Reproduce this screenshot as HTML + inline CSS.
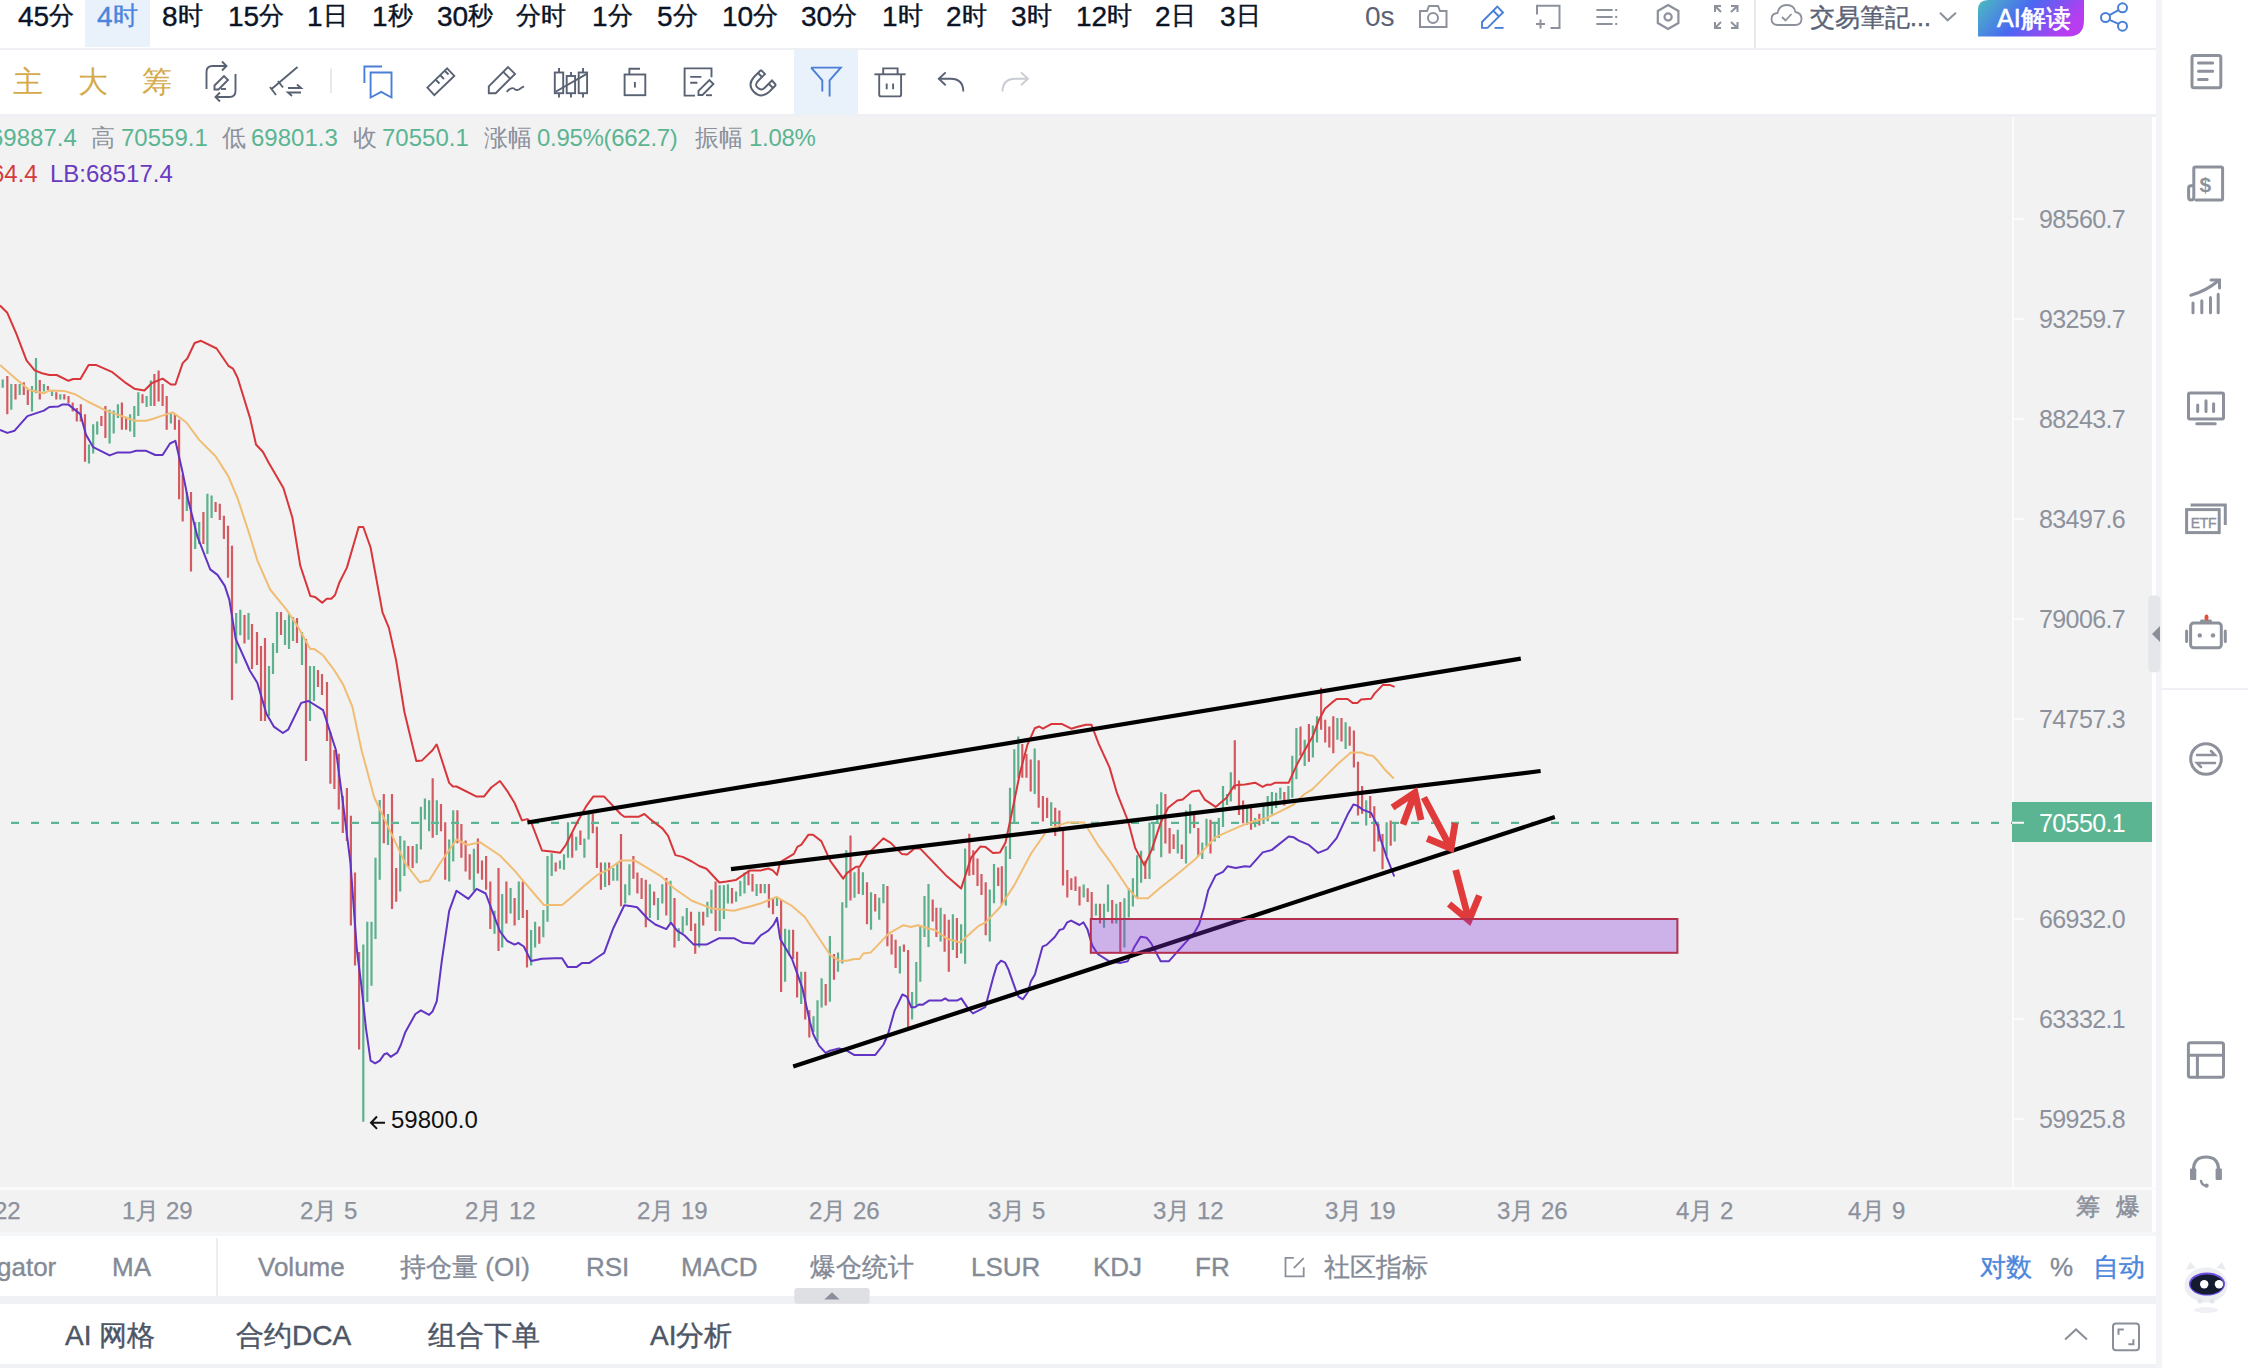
<!DOCTYPE html>
<html><head><meta charset="utf-8">
<style>
*{margin:0;padding:0;box-sizing:border-box}
html,body{width:2248px;height:1368px;overflow:hidden;background:#fff;font-family:"Liberation Sans",sans-serif;position:relative}
.a{position:absolute;white-space:nowrap}
.tf{font-size:28px;color:#0b1426;top:2px;line-height:30px;-webkit-text-stroke-width:0.4px}
.tf .c{font-size:25px;position:relative;top:-2px}
.ax{font-size:25px;color:#8c919c;line-height:26px;letter-spacing:-0.6px}
.tm{font-size:24px;color:#8c919c;line-height:26px;top:1198px;-webkit-text-stroke-width:0.25px}
.ind{font-size:26px;color:#848a96;line-height:30px;top:1252px;-webkit-text-stroke-width:0.35px}
.bt{font-size:28px;color:#4d5666;line-height:32px;top:1320px;-webkit-text-stroke-width:0.4px}
svg{position:absolute;left:0;top:0}
</style></head><body>
<!-- top bar -->
<div class="a" style="left:0;top:0;width:2156px;height:48px;background:#fff"></div>
<div class="a" style="left:85px;top:0;width:65px;height:47px;background:#e9f1fb"></div>
<div class="a" style="left:0;top:48px;width:2156px;height:2px;background:#eef0f3"></div>
<div class="a" style="left:794px;top:50px;width:64px;height:64px;background:#e9f1fb"></div>
<div class="a" style="left:0;top:114px;width:2156px;height:3px;background:#eef0f3"></div>
<!-- chart bg -->
<div class="a" style="left:0;top:117px;width:2152px;height:1070px;background:#f2f2f2"></div>
<div class="a" style="left:2012px;top:117px;width:2px;height:1070px;background:#fbfbfb"></div>
<div class="a" style="left:0;top:1187px;width:2156px;height:3px;background:#fafafa"></div>
<div class="a" style="left:0;top:1190px;width:2152px;height:42px;background:#f2f2f2"></div>
<div class="a" style="left:0;top:1232px;width:2156px;height:4px;background:#f5f6f8"></div>
<div class="a" style="left:216px;top:1238px;width:2px;height:58px;background:#eceef1"></div>
<div class="a" style="left:0;top:1296px;width:2156px;height:8px;background:#f0f1f5"></div>
<div class="a" style="left:0;top:1364px;width:2156px;height:4px;background:#f0f1f5"></div>
<div class="a" style="left:2156px;top:0;width:6px;height:1368px;background:#f3f4f8"></div>
<div class="a" style="left:2162px;top:688px;width:86px;height:2px;background:#eef0f3"></div>

<!-- timeframes -->
<span class="a tf" style="left:18px">45<span class="c">分</span></span>
<span class="a tf" style="left:97px;color:#4c86dc">4<span class="c">时</span></span>
<span class="a tf" style="left:162px">8<span class="c">时</span></span>
<span class="a tf" style="left:228px">15<span class="c">分</span></span>
<span class="a tf" style="left:307px">1<span class="c">日</span></span>
<span class="a tf" style="left:372px">1<span class="c">秒</span></span>
<span class="a tf" style="left:437px">30<span class="c">秒</span></span>
<span class="a tf" style="left:516px"><span class="c">分时</span></span>
<span class="a tf" style="left:592px">1<span class="c">分</span></span>
<span class="a tf" style="left:657px">5<span class="c">分</span></span>
<span class="a tf" style="left:722px">10<span class="c">分</span></span>
<span class="a tf" style="left:801px">30<span class="c">分</span></span>
<span class="a tf" style="left:882px">1<span class="c">时</span></span>
<span class="a tf" style="left:946px">2<span class="c">时</span></span>
<span class="a tf" style="left:1011px">3<span class="c">时</span></span>
<span class="a tf" style="left:1076px">12<span class="c">时</span></span>
<span class="a tf" style="left:1155px">2<span class="c">日</span></span>
<span class="a tf" style="left:1220px">3<span class="c">日</span></span>
<span class="a tf" style="left:1365px;color:#5a6275;-webkit-text-stroke:0">0s</span>

<!-- price axis labels -->
<span class="a ax" style="left:2039px;top:206px">98560.7</span>
<span class="a ax" style="left:2039px;top:306px">93259.7</span>
<span class="a ax" style="left:2039px;top:406px">88243.7</span>
<span class="a ax" style="left:2039px;top:506px">83497.6</span>
<span class="a ax" style="left:2039px;top:606px">79006.7</span>
<span class="a ax" style="left:2039px;top:706px">74757.3</span>
<span class="a ax" style="left:2039px;top:906px">66932.0</span>
<span class="a ax" style="left:2039px;top:1006px">63332.1</span>
<span class="a ax" style="left:2039px;top:1106px">59925.8</span>
<div class="a" style="left:2012px;top:802px;width:140px;height:40px;background:#5bb592"></div>
<span class="a ax" style="left:2039px;top:810px;color:#fff">70550.1</span>

<!-- time axis -->
<span class="a tm" style="left:-6px">22</span>
<span class="a tm" style="left:122px">1月 29</span>
<span class="a tm" style="left:300px">2月 5</span>
<span class="a tm" style="left:465px">2月 12</span>
<span class="a tm" style="left:637px">2月 19</span>
<span class="a tm" style="left:809px">2月 26</span>
<span class="a tm" style="left:988px">3月 5</span>
<span class="a tm" style="left:1153px">3月 12</span>
<span class="a tm" style="left:1325px">3月 19</span>
<span class="a tm" style="left:1497px">3月 26</span>
<span class="a tm" style="left:1676px">4月 2</span>
<span class="a tm" style="left:1848px">4月 9</span>
<span class="a tm" style="left:2076px;top:1194px;-webkit-text-stroke-width:0.6px">筹</span>
<span class="a tm" style="left:2116px;top:1194px;-webkit-text-stroke-width:0.6px">爆</span>

<!-- indicators -->
<span class="a ind" style="left:-3px">gator</span>
<span class="a ind" style="left:112px">MA</span>
<span class="a ind" style="left:258px">Volume</span>
<span class="a ind" style="left:400px">持仓量 (OI)</span>
<span class="a ind" style="left:586px">RSI</span>
<span class="a ind" style="left:681px">MACD</span>
<span class="a ind" style="left:810px">爆仓统计</span>
<span class="a ind" style="left:971px">LSUR</span>
<span class="a ind" style="left:1093px">KDJ</span>
<span class="a ind" style="left:1195px">FR</span>
<span class="a ind" style="left:1324px">社区指标</span>
<span class="a ind" style="left:1980px;color:#4c86dc">对数</span>
<span class="a ind" style="left:2050px">%</span>
<span class="a ind" style="left:2093px;color:#4c86dc">自动</span>

<!-- bottom -->
<span class="a bt" style="left:65px">AI 网格</span>
<span class="a bt" style="left:236px">合约DCA</span>
<span class="a bt" style="left:428px">组合下单</span>
<span class="a bt" style="left:650px">AI分析</span>

<!-- OHLC -->
<div class="a" style="left:0;top:124px;width:900px;height:60px;font-size:24px;line-height:28px;color:#5bb592">
<span class="a" style="left:-10px;top:0">69887.4</span>
<span class="a" style="left:91px;top:0;color:#8c919c">高</span>
<span class="a" style="left:121px;top:0">70559.1</span>
<span class="a" style="left:222px;top:0;color:#8c919c">低</span>
<span class="a" style="left:251px;top:0">69801.3</span>
<span class="a" style="left:353px;top:0;color:#8c919c">收</span>
<span class="a" style="left:382px;top:0">70550.1</span>
<span class="a" style="left:484px;top:0;color:#8c919c">涨幅</span>
<span class="a" style="left:537px;top:0;letter-spacing:-0.3px">0.95%(662.7)</span>
<span class="a" style="left:695px;top:0;color:#8c919c">振幅</span>
<span class="a" style="left:749px;top:0;letter-spacing:-0.3px">1.08%</span>
<span class="a" style="left:-9px;top:36px;color:#d43c3c">64.4</span>
<span class="a" style="left:50px;top:36px;color:#6a3bc0">LB:68517.4</span>
</div>

<svg width="2248" height="1368" viewBox="0 0 2248 1368" style="position:absolute;left:0;top:0">
<path fill="#5cb08c" d="M1.6 379.5h2.2V387.8h-2.2zM10.2 384.1h2.2V409.7h-2.2zM18.6 384.1h2.2V395.1h-2.2zM30.9 386.0h2.2V411.5h-2.2zM34.9 358.0h2.2V393.3h-2.2zM42.8 384.1h2.2V391.4h-2.2zM50.9 390.0h2.2V396.0h-2.2zM59.2 394.2h2.2V399.6h-2.2zM87.9 444.4h2.2V463.6h-2.2zM92.1 424.3h2.2V453.6h-2.2zM96.1 421.6h2.2V434.4h-2.2zM108.5 409.7h2.2V443.5h-2.2zM112.6 410.6h2.2V433.5h-2.2zM116.8 404.2h2.2V417.9h-2.2zM129.0 414.3h2.2V431.6h-2.2zM133.2 406.0h2.2V437.1h-2.2zM137.2 392.3h2.2V416.1h-2.2zM145.5 396.0h2.2V407.0h-2.2zM149.7 380.5h2.2V406.0h-2.2zM169.8 413.4h2.2V423.4h-2.2zM185.7 491.9h2.2V511.1h-2.2zM194.1 522.0h2.2V549.0h-2.2zM198.1 522.0h2.2V544.0h-2.2zM206.3 493.8h2.2V553.9h-2.2zM210.5 495.6h2.2V518.0h-2.2zM235.1 613.0h2.2V663.6h-2.2zM239.2 609.7h2.2V635.3h-2.2zM247.4 613.0h2.2V639.8h-2.2zM267.9 666.0h2.2V716.0h-2.2zM271.9 643.0h2.2V674.0h-2.2zM275.9 612.0h2.2V653.0h-2.2zM283.9 620.0h2.2V645.0h-2.2zM287.9 614.0h2.2V649.0h-2.2zM291.9 617.0h2.2V641.0h-2.2zM300.9 632.0h2.2V665.0h-2.2zM308.9 666.0h2.2V721.0h-2.2zM312.9 666.0h2.2V701.0h-2.2zM362.2 944.6h2.2V1121.8h-2.2zM366.2 921.8h2.2V1002.0h-2.2zM370.4 921.8h2.2V985.7h-2.2zM374.4 857.8h2.2V939.0h-2.2zM378.6 800.0h2.2V879.8h-2.2zM386.9 814.0h2.2V845.0h-2.2zM399.1 835.9h2.2V891.6h-2.2zM403.3 840.5h2.2V876.0h-2.2zM415.6 844.0h2.2V863.3h-2.2zM419.8 806.7h2.2V849.6h-2.2zM423.8 798.4h2.2V819.4h-2.2zM428.0 800.2h2.2V831.3h-2.2zM435.7 800.2h2.2V835.0h-2.2zM448.1 839.5h2.2V881.6h-2.2zM452.1 810.3h2.2V861.5h-2.2zM472.8 848.7h2.2V890.7h-2.2zM493.4 910.8h2.2V933.7h-2.2zM501.1 894.0h2.2V947.4h-2.2zM509.5 888.0h2.2V913.6h-2.2zM517.7 881.6h2.2V920.0h-2.2zM530.0 930.0h2.2V965.6h-2.2zM534.0 921.8h2.2V947.4h-2.2zM542.2 910.0h2.2V937.3h-2.2zM546.4 856.0h2.2V921.8h-2.2zM550.6 853.3h2.2V876.0h-2.2zM558.9 860.6h2.2V868.8h-2.2zM562.9 854.2h2.2V869.7h-2.2zM566.9 822.2h2.2V857.8h-2.2zM575.1 836.8h2.2V850.5h-2.2zM583.3 838.6h2.2V857.8h-2.2zM587.5 812.1h2.2V839.5h-2.2zM604.0 862.4h2.2V887.0h-2.2zM612.2 867.9h2.2V880.7h-2.2zM616.2 863.3h2.2V880.7h-2.2zM624.1 884.3h2.2V903.5h-2.2zM628.3 864.2h2.2V895.3h-2.2zM648.8 884.3h2.2V918.1h-2.2zM656.9 898.0h2.2V920.0h-2.2zM661.2 884.3h2.2V903.5h-2.2zM669.4 880.7h2.2V922.7h-2.2zM677.6 928.2h2.2V941.0h-2.2zM681.6 916.3h2.2V933.7h-2.2zM685.7 908.0h2.2V925.4h-2.2zM698.1 911.7h2.2V947.4h-2.2zM706.3 901.7h2.2V917.2h-2.2zM710.3 889.8h2.2V913.6h-2.2zM718.6 885.2h2.2V931.0h-2.2zM722.8 885.2h2.2V919.0h-2.2zM726.8 884.3h2.2V903.5h-2.2zM735.0 891.6h2.2V901.7h-2.2zM739.2 880.7h2.2V896.2h-2.2zM743.4 872.4h2.2V893.5h-2.2zM755.5 884.0h2.2V896.0h-2.2zM763.7 884.0h2.2V893.2h-2.2zM775.9 897.8h2.2V906.0h-2.2zM784.0 928.8h2.2V981.8h-2.2zM788.0 929.8h2.2V955.3h-2.2zM800.1 971.8h2.2V1004.0h-2.2zM812.4 1016.3h2.2V1031.9h-2.2zM816.4 1000.3h2.2V1040.9h-2.2zM820.5 978.3h2.2V1007.4h-2.2zM828.8 936.1h2.2V1001.8h-2.2zM836.9 952.4h2.2V971.7h-2.2zM841.2 902.3h2.2V963.4h-2.2zM845.2 850.3h2.2V907.8h-2.2zM853.4 872.2h2.2V897.8h-2.2zM861.8 872.2h2.2V895.0h-2.2zM869.9 892.3h2.2V929.8h-2.2zM878.1 897.8h2.2V919.7h-2.2zM882.3 884.0h2.2V903.3h-2.2zM898.8 946.2h2.2V973.5h-2.2zM911.0 991.9h2.2V1019.4h-2.2zM915.2 961.9h2.2V1005.0h-2.2zM919.2 926.1h2.2V981.8h-2.2zM923.4 895.9h2.2V937.1h-2.2zM927.4 884.0h2.2V947.1h-2.2zM939.5 907.8h2.2V941.6h-2.2zM951.8 914.2h2.2V949.9h-2.2zM960.0 924.3h2.2V953.5h-2.2zM964.0 848.4h2.2V963.8h-2.2zM988.7 889.5h2.2V941.6h-2.2zM992.9 864.0h2.2V903.3h-2.2zM1004.7 846.2h2.2V905.6h-2.2zM1008.9 787.7h2.2V859.0h-2.2zM1013.2 749.3h2.2V822.4h-2.2zM1017.2 736.5h2.2V777.7h-2.2zM1033.6 748.4h2.2V794.1h-2.2zM1050.1 802.3h2.2V826.1h-2.2zM1082.6 884.6h2.2V897.4h-2.2zM1094.8 903.8h2.2V915.6h-2.2zM1102.9 903.8h2.2V927.8h-2.2zM1106.9 884.5h2.2V911.7h-2.2zM1115.2 903.8h2.2V923.4h-2.2zM1123.3 898.3h2.2V947.4h-2.2zM1127.7 888.2h2.2V917.5h-2.2zM1131.8 878.2h2.2V906.5h-2.2zM1136.0 855.3h2.2V897.4h-2.2zM1140.0 850.8h2.2V882.7h-2.2zM1148.4 822.4h2.2V879.1h-2.2zM1152.4 822.4h2.2V850.8h-2.2zM1156.1 804.2h2.2V822.4h-2.2zM1160.1 792.3h2.2V857.2h-2.2zM1176.7 829.8h2.2V853.5h-2.2zM1184.9 810.6h2.2V863.6h-2.2zM1189.0 804.2h2.2V833.4h-2.2zM1201.2 842.5h2.2V859.0h-2.2zM1205.4 818.8h2.2V846.2h-2.2zM1213.6 822.4h2.2V841.6h-2.2zM1217.7 817.9h2.2V838.0h-2.2zM1221.9 785.9h2.2V827.0h-2.2zM1225.9 794.1h2.2V805.1h-2.2zM1229.7 772.2h2.2V801.4h-2.2zM1246.0 807.1h2.2V825.0h-2.2zM1254.0 818.0h2.2V827.2h-2.2zM1262.4 806.2h2.2V823.9h-2.2zM1266.6 796.1h2.2V821.3h-2.2zM1270.8 791.9h2.2V814.6h-2.2zM1275.0 792.8h2.2V807.9h-2.2zM1279.2 787.7h2.2V799.5h-2.2zM1287.3 786.1h2.2V799.5h-2.2zM1291.2 755.8h2.2V797.8h-2.2zM1295.3 728.1h2.2V779.3h-2.2zM1303.6 739.8h2.2V765.9h-2.2zM1311.8 725.5h2.2V757.5h-2.2zM1315.9 716.3h2.2V742.4h-2.2zM1336.3 718.0h2.2V739.8h-2.2zM1344.5 722.2h2.2V749.1h-2.2zM1365.1 800.3h2.2V825.5h-2.2zM1385.5 822.2h2.2V855.8h-2.2zM1393.6 823.9h2.2V841.5h-2.2z"/>
<path fill="#d45a62" d="M6.2 375.9h2.2V414.3h-2.2zM14.4 384.1h2.2V399.6h-2.2zM22.7 382.3h2.2V395.1h-2.2zM26.7 389.6h2.2V405.1h-2.2zM38.7 379.9h2.2V399.6h-2.2zM46.8 386.0h2.2V390.1h-2.2zM55.2 392.3h2.2V399.6h-2.2zM63.2 394.2h2.2V399.6h-2.2zM67.4 396.0h2.2V403.3h-2.2zM71.6 402.4h2.2V411.5h-2.2zM75.7 407.9h2.2V421.6h-2.2zM79.7 404.2h2.2V421.6h-2.2zM83.9 414.3h2.2V461.8h-2.2zM100.3 416.1h2.2V426.1h-2.2zM104.3 406.0h2.2V438.0h-2.2zM120.8 402.4h2.2V429.8h-2.2zM125.0 417.0h2.2V429.8h-2.2zM141.4 394.2h2.2V403.3h-2.2zM153.3 374.1h2.2V406.0h-2.2zM157.5 370.4h2.2V401.5h-2.2zM161.5 384.1h2.2V406.0h-2.2zM165.6 396.0h2.2V429.8h-2.2zM173.8 414.3h2.2V429.8h-2.2zM178.0 419.8h2.2V499.2h-2.2zM181.6 474.6h2.2V521.6h-2.2zM189.9 491.9h2.2V571.6h-2.2zM202.3 512.0h2.2V544.0h-2.2zM214.5 502.0h2.2V512.0h-2.2zM218.7 503.8h2.2V520.0h-2.2zM222.8 515.7h2.2V539.0h-2.2zM226.9 525.7h2.2V577.7h-2.2zM230.9 545.7h2.2V700.0h-2.2zM243.4 615.0h2.2V643.5h-2.2zM250.9 624.0h2.2V669.0h-2.2zM255.9 632.0h2.2V665.0h-2.2zM259.9 646.0h2.2V721.0h-2.2zM263.9 638.0h2.2V721.0h-2.2zM279.9 612.0h2.2V635.0h-2.2zM295.9 618.0h2.2V643.0h-2.2zM304.9 639.0h2.2V761.0h-2.2zM316.9 670.0h2.2V687.0h-2.2zM320.9 674.0h2.2V695.0h-2.2zM325.9 682.0h2.2V741.0h-2.2zM329.3 732.0h2.2V783.8h-2.2zM333.3 750.0h2.2V789.0h-2.2zM337.7 753.7h2.2V809.4h-2.2zM341.7 795.7h2.2V833.0h-2.2zM345.8 788.0h2.2V841.0h-2.2zM349.8 815.8h2.2V925.4h-2.2zM353.9 872.4h2.2V965.6h-2.2zM358.0 952.0h2.2V1049.6h-2.2zM382.7 793.9h2.2V843.2h-2.2zM390.9 793.9h2.2V909.0h-2.2zM395.1 867.9h2.2V901.7h-2.2zM407.2 846.0h2.2V867.0h-2.2zM411.5 846.0h2.2V867.9h-2.2zM431.6 778.3h2.2V837.7h-2.2zM439.9 804.0h2.2V831.3h-2.2zM444.1 822.2h2.2V879.8h-2.2zM456.3 810.3h2.2V843.2h-2.2zM460.3 824.0h2.2V857.8h-2.2zM464.5 840.5h2.2V871.5h-2.2zM468.6 854.2h2.2V879.8h-2.2zM476.8 838.6h2.2V873.4h-2.2zM480.9 860.6h2.2V879.8h-2.2zM485.0 856.0h2.2V889.8h-2.2zM489.2 881.6h2.2V929.0h-2.2zM497.4 867.9h2.2V951.0h-2.2zM505.3 881.6h2.2V923.6h-2.2zM513.5 898.0h2.2V925.4h-2.2zM521.7 881.6h2.2V918.1h-2.2zM525.9 910.0h2.2V967.5h-2.2zM538.2 926.4h2.2V943.7h-2.2zM554.6 862.4h2.2V871.5h-2.2zM571.1 833.2h2.2V857.8h-2.2zM579.3 830.4h2.2V845.0h-2.2zM591.7 814.0h2.2V833.2h-2.2zM595.8 826.8h2.2V867.9h-2.2zM599.8 862.4h2.2V889.8h-2.2zM608.0 862.4h2.2V885.2h-2.2zM619.9 834.0h2.2V906.2h-2.2zM632.3 856.0h2.2V878.8h-2.2zM636.3 872.4h2.2V893.5h-2.2zM640.5 877.9h2.2V899.0h-2.2zM644.7 879.8h2.2V927.3h-2.2zM653.0 891.6h2.2V905.3h-2.2zM665.2 877.9h2.2V915.4h-2.2zM673.4 898.0h2.2V947.4h-2.2zM689.9 911.7h2.2V931.0h-2.2zM694.1 923.6h2.2V953.8h-2.2zM702.1 911.7h2.2V925.4h-2.2zM714.5 881.6h2.2V931.0h-2.2zM730.9 888.0h2.2V903.5h-2.2zM747.4 870.6h2.2V885.2h-2.2zM751.4 874.0h2.2V891.4h-2.2zM759.6 884.0h2.2V893.2h-2.2zM767.8 884.0h2.2V907.8h-2.2zM771.9 898.7h2.2V914.2h-2.2zM780.0 899.6h2.2V991.9h-2.2zM792.0 929.8h2.2V959.0h-2.2zM796.0 951.7h2.2V997.6h-2.2zM804.1 971.8h2.2V1019.4h-2.2zM808.2 1010.2h2.2V1037.5h-2.2zM824.6 983.9h2.2V1005.6h-2.2zM832.9 953.9h2.2V979.7h-2.2zM849.4 835.6h2.2V900.5h-2.2zM857.6 867.6h2.2V894.1h-2.2zM865.9 882.2h2.2V924.3h-2.2zM874.1 894.1h2.2V911.5h-2.2zM886.3 885.9h2.2V946.2h-2.2zM890.5 934.3h2.2V954.4h-2.2zM894.5 939.8h2.2V968.1h-2.2zM902.8 944.4h2.2V951.7h-2.2zM907.0 949.9h2.2V1027.1h-2.2zM931.6 899.6h2.2V921.5h-2.2zM935.3 907.8h2.2V937.1h-2.2zM943.5 914.2h2.2V951.7h-2.2zM947.7 919.7h2.2V971.8h-2.2zM955.8 917.9h2.2V958.0h-2.2zM968.2 833.8h2.2V875.8h-2.2zM972.2 850.3h2.2V874.9h-2.2zM976.4 858.5h2.2V885.9h-2.2zM980.4 874.0h2.2V895.0h-2.2zM984.6 882.2h2.2V935.2h-2.2zM997.1 867.6h2.2V885.9h-2.2zM1000.7 866.3h2.2V904.7h-2.2zM1021.2 743.9h2.2V777.7h-2.2zM1025.4 753.9h2.2V777.7h-2.2zM1029.6 759.4h2.2V791.4h-2.2zM1037.6 760.3h2.2V807.8h-2.2zM1041.8 795.9h2.2V821.5h-2.2zM1046.0 797.8h2.2V817.9h-2.2zM1054.1 807.8h2.2V836.1h-2.2zM1058.3 810.6h2.2V830.7h-2.2zM1061.9 827.9h2.2V885.5h-2.2zM1066.2 870.0h2.2V897.4h-2.2zM1070.2 878.2h2.2V890.1h-2.2zM1074.4 876.4h2.2V891.0h-2.2zM1078.4 886.4h2.2V905.6h-2.2zM1086.6 888.2h2.2V901.9h-2.2zM1090.6 891.9h2.2V918.4h-2.2zM1098.9 903.8h2.2V923.4h-2.2zM1111.1 900.0h2.2V923.4h-2.2zM1119.2 902.0h2.2V952.3h-2.2zM1144.2 860.8h2.2V879.1h-2.2zM1164.3 794.1h2.2V843.5h-2.2zM1168.5 827.9h2.2V853.5h-2.2zM1172.5 834.3h2.2V848.9h-2.2zM1180.7 844.4h2.2V859.0h-2.2zM1193.0 815.1h2.2V827.9h-2.2zM1197.2 827.9h2.2V856.2h-2.2zM1209.4 819.7h2.2V853.5h-2.2zM1233.7 740.2h2.2V789.5h-2.2zM1237.9 780.4h2.2V815.1h-2.2zM1242.0 800.4h2.2V823.2h-2.2zM1249.9 807.9h2.2V829.7h-2.2zM1258.2 813.8h2.2V825.5h-2.2zM1283.2 791.9h2.2V805.4h-2.2zM1299.4 726.4h2.2V755.8h-2.2zM1307.8 723.9h2.2V761.7h-2.2zM1320.0 687.7h2.2V729.7h-2.2zM1324.1 719.7h2.2V742.4h-2.2zM1328.2 726.4h2.2V747.4h-2.2zM1332.2 716.3h2.2V753.3h-2.2zM1340.4 718.0h2.2V741.5h-2.2zM1348.6 726.4h2.2V745.7h-2.2zM1352.8 730.6h2.2V767.6h-2.2zM1356.9 761.7h2.2V815.5h-2.2zM1361.0 786.1h2.2V813.8h-2.2zM1369.1 796.1h2.2V818.0h-2.2zM1373.2 806.2h2.2V851.6h-2.2zM1377.3 823.9h2.2V841.5h-2.2zM1381.4 834.0h2.2V869.2h-2.2zM1389.6 820.5h2.2V845.7h-2.2z"/>
<line x1="0" y1="822.8" x2="2012" y2="822.8" stroke="#5bb592" stroke-width="2.2" stroke-dasharray="8 12" stroke-dashoffset="9"/>
<polyline fill="none" stroke="#f1bd74" stroke-width="2" stroke-linejoin="round" points="0.0,364.9 14.6,377.7 29.2,390.1 43.9,393.3 49.3,390.5 64.0,390.9 74.9,394.2 87.7,401.5 106.0,410.6 124.3,417.0 135.2,420.7 146.2,420.7 153.5,418.8 160.8,416.1 172.7,412.4 186.4,422.5 199.2,439.9 215.6,456.3 228.4,476.4 237.6,498.3 250.0,536.0 257.3,560.3 270.1,589.5 286.5,609.6 297.5,626.1 310.3,648.9 314.0,648.9 323.1,655.3 334.1,670.0 343.2,684.6 352.3,706.5 361.5,750.0 374.3,797.5 388.9,828.6 405.3,863.3 420.0,882.5 425.4,880.7 429.1,880.7 440.0,863.3 456.5,839.5 467.5,845.0 480.3,842.3 500.0,855.5 514.6,870.6 523.8,881.6 543.9,905.0 562.1,905.0 569.4,899.0 584.1,886.1 596.9,875.2 609.6,868.8 620.6,860.6 635.2,860.6 660.8,876.1 673.6,888.0 691.9,900.8 712.0,908.6 733.9,910.8 750.0,906.5 761.0,903.3 776.5,896.9 792.0,906.0 804.8,917.0 830.4,955.3 839.5,960.8 846.9,960.8 854.2,959.0 859.6,959.0 863.3,953.5 870.6,952.6 888.9,933.4 903.5,925.2 910.8,927.0 918.1,925.2 929.1,928.8 934.6,929.8 947.4,938.9 960.2,942.5 978.4,926.1 985.7,922.4 1000.0,907.2 1014.6,884.6 1031.1,853.5 1047.5,829.8 1056.7,826.1 1067.6,822.4 1084.1,822.4 1098.7,846.2 1109.6,860.8 1127.9,888.2 1137.1,898.3 1148.0,898.3 1160.8,887.3 1173.6,877.3 1195.5,859.0 1215.6,837.1 1240.0,826.4 1253.4,821.3 1266.9,818.0 1280.3,811.3 1293.8,804.5 1303.9,794.5 1312.3,789.4 1324.0,777.6 1337.5,764.2 1350.9,752.4 1361.0,752.4 1367.7,755.0 1372.8,755.8 1377.8,760.8 1384.5,769.2 1393.8,778.5"/>
<polyline fill="none" stroke="#d8363a" stroke-width="2" stroke-linejoin="round" points="0.0,305.5 7.3,312.8 16.4,333.9 26.5,360.4 34.7,370.4 42.0,373.2 49.3,375.0 56.7,375.0 68.5,380.8 73.1,379.0 80.4,379.0 88.6,364.9 95.9,364.9 112.4,372.2 126.1,383.2 134.3,388.7 144.4,390.5 151.7,383.2 162.6,378.6 170.9,384.5 175.4,384.5 182.7,363.1 187.3,358.5 194.6,343.0 201.0,340.8 216.6,348.5 228.4,365.8 233.0,368.6 237.6,377.7 250.0,417.9 256.0,444.5 263.0,452.0 268.7,462.8 283.4,488.0 292.4,517.7 300.3,565.8 310.3,595.9 314.9,596.9 322.2,602.7 326.8,598.7 331.3,598.7 335.0,595.0 339.5,582.2 346.9,567.6 358.7,527.0 363.3,527.0 370.6,547.5 382.5,612.4 388.9,627.9 396.2,660.8 404.4,712.0 413.6,750.0 416.3,761.0 421.8,760.6 432.7,750.0 436.5,744.5 437.3,746.0 449.2,782.9 452.9,786.5 456.5,786.5 476.6,796.6 483.9,796.6 491.2,787.5 500.0,781.0 507.3,791.1 514.6,803.0 521.9,820.4 527.4,819.1 531.1,822.2 542.0,850.5 551.2,851.4 560.3,852.7 565.8,845.0 576.8,823.1 585.9,806.7 593.2,796.6 604.2,796.6 620.6,814.0 624.3,816.7 638.9,816.7 644.4,814.0 651.7,820.4 662.6,828.6 668.1,835.9 675.4,855.1 682.7,856.9 691.9,861.5 699.2,866.0 706.5,868.8 719.3,882.5 726.6,881.6 735.7,880.1 750.0,870.4 761.0,870.4 768.3,868.5 772.8,870.4 777.0,874.9 780.2,862.1 793.9,853.9 797.5,846.6 801.2,844.8 808.5,834.7 813.0,834.7 821.3,841.1 830.4,861.2 843.2,878.6 846.9,873.1 856.0,866.7 859.6,866.7 867.0,854.8 883.4,838.4 890.7,842.9 901.7,853.9 907.2,854.5 914.5,848.4 920.0,848.4 945.5,874.9 961.1,888.6 971.1,857.6 980.3,846.6 985.7,847.1 993.0,853.0 1000.0,852.6 1005.5,842.5 1011.0,817.0 1020.1,772.2 1027.4,744.8 1034.7,728.3 1039.3,726.5 1042.9,728.7 1051.2,724.1 1062.1,724.1 1071.3,728.7 1076.8,727.0 1085.9,724.7 1091.4,724.7 1098.7,743.9 1109.6,767.6 1117.0,793.2 1127.9,820.6 1135.2,848.0 1144.4,865.4 1151.7,849.9 1160.8,822.4 1168.1,807.8 1177.3,800.5 1182.7,799.6 1191.9,791.4 1199.2,790.5 1204.7,799.6 1215.6,806.9 1226.6,797.8 1233.9,785.9 1237.6,785.0 1245.0,784.4 1255.1,782.7 1262.7,786.9 1266.9,784.7 1271.1,784.7 1275.3,782.7 1288.7,782.7 1297.1,764.2 1307.2,745.7 1312.3,737.3 1319.0,719.7 1324.9,708.7 1331.6,702.9 1336.6,699.0 1347.6,699.0 1352.6,702.9 1357.6,702.9 1361.0,699.5 1371.1,698.7 1374.5,693.6 1382.9,684.9 1389.6,684.9 1394.6,686.9"/>
<polyline fill="none" stroke="#6134c4" stroke-width="2" stroke-linejoin="round" points="0.0,429.8 7.3,432.9 14.6,430.7 27.4,416.1 43.9,410.6 49.3,407.0 58.5,406.4 62.1,404.6 68.5,404.6 80.4,414.3 85.9,434.4 93.2,447.2 109.6,455.4 117.0,452.6 129.8,452.6 136.1,450.8 146.2,450.8 155.3,455.0 162.6,455.0 170.0,443.5 175.4,440.8 182.7,472.7 188.2,500.0 197.4,536.5 210.2,569.4 217.5,574.9 224.8,585.9 229.3,599.6 235.7,638.9 250.0,671.0 257.3,682.7 266.4,713.8 273.8,726.6 282.9,733.0 288.4,729.3 301.2,702.9 308.5,701.0 323.1,710.2 335.9,750.0 343.2,804.8 350.5,863.3 356.9,950.0 361.5,986.5 366.0,1028.6 370.6,1060.6 375.2,1063.3 379.8,1060.6 384.3,1054.2 387.1,1053.3 390.7,1056.9 397.1,1052.7 400.8,1045.0 405.3,1032.2 415.4,1014.0 420.9,1010.3 429.1,1014.9 432.7,1011.2 436.8,1001.2 441.9,960.2 449.2,910.8 456.5,890.7 468.4,898.9 476.6,888.9 485.7,893.5 494.9,918.1 500.0,931.5 507.3,941.0 514.6,944.6 518.3,942.8 523.8,946.5 531.1,961.1 542.0,958.7 554.8,958.3 562.1,958.3 567.6,966.9 576.8,966.9 582.2,962.9 589.5,962.9 598.7,956.5 604.2,952.9 613.3,928.2 624.3,905.3 631.6,906.2 637.1,907.2 648.0,919.0 655.3,924.5 666.3,929.1 670.9,922.7 677.3,930.9 684.6,935.5 693.7,944.6 706.5,944.6 719.3,938.2 733.9,938.2 743.0,942.8 753.7,943.5 761.0,935.2 768.3,930.7 773.8,924.3 777.0,917.9 780.2,938.9 792.0,959.0 796.7,972.2 802.3,987.8 810.0,1022.3 813.4,1034.5 819.0,1045.6 825.6,1052.9 829.0,1051.0 839.0,1048.4 846.8,1050.6 854.5,1055.1 875.1,1055.1 883.5,1044.5 887.9,1034.5 894.6,1010.6 902.4,994.5 906.8,996.7 911.3,1007.3 914.6,1007.3 919.0,1004.5 922.9,1004.7 929.0,1000.6 941.3,1000.6 945.2,998.4 948.5,1000.6 956.9,1000.6 961.3,998.4 968.0,1008.4 973.0,1013.4 985.2,1007.2 987.0,1000.8 993.4,976.8 996.9,965.1 1001.0,960.7 1005.1,962.7 1008.6,969.8 1016.2,991.4 1018.5,996.7 1022.9,999.3 1027.9,992.0 1030.8,981.5 1034.9,974.4 1042.5,946.7 1046.6,944.9 1054.8,937.0 1059.5,930.0 1063.3,928.9 1067.2,922.3 1071.1,920.6 1079.5,925.0 1083.4,922.3 1087.3,928.9 1092.3,945.6 1097.8,954.0 1108.9,961.2 1120.6,962.9 1127.8,961.2 1134.5,946.7 1140.6,936.7 1146.8,937.8 1151.2,943.4 1160.7,961.2 1169.0,961.2 1177.9,951.2 1194.6,932.3 1199.0,924.5 1204.0,907.8 1208.3,890.1 1215.6,875.4 1223.0,871.8 1227.5,866.3 1235.7,868.1 1244.9,866.3 1250.1,866.7 1262.7,852.4 1271.9,849.9 1288.7,836.5 1293.8,837.3 1298.8,840.7 1308.9,844.9 1318.2,852.9 1327.4,849.1 1336.6,838.2 1347.6,814.6 1353.4,804.5 1356.8,805.4 1362.7,809.6 1371.1,812.9 1377.8,826.4 1380.5,839.0 1386.6,856.8 1394.3,876.5"/>
<g stroke="#000" stroke-width="4.2" stroke-linecap="butt">
<line x1="527.4" y1="822.5" x2="1520.8" y2="658.6"/>
<line x1="731" y1="869.2" x2="1540.6" y2="771"/>
<line x1="793.2" y1="1066.6" x2="1554.8" y2="817"/>
</g>
<g stroke="#e03a3a" stroke-width="6.8" fill="none" stroke-linecap="butt" stroke-linejoin="miter" stroke-miterlimit="10">
<path d="M1403 824.5 L1415 792.5 M1392.5 807.5 L1415 792.5 L1421 820"/>
<path d="M1423.9 797.5 L1451 848.5 M1427.2 838.5 L1451 848.5 L1455.1 823"/>
<path d="M1455.7 870 L1469 920.5 M1449.1 904 L1469 920.5 L1479.3 895.5"/>
</g>
<rect x="1090.8" y="919" width="586.6" height="33.8" fill="rgba(130,46,215,0.33)" stroke="#b3304e" stroke-width="2"/>
</svg>
<!--ICONS-->
<svg width="2248" height="1368" style="position:absolute;left:0;top:0">
<g fill="none" stroke-linecap="butt" stroke-linejoin="miter">
<!-- row2 golden chars drawn as text elsewhere -->
<!-- icon4 -->
<g stroke="#596273" stroke-width="1.9">
<path d="M206.5 89 V72 Q206.5 66 212.5 66 H226"/><path d="M222 61.5 L226.5 66 L222 70.5"/>
<path d="M235.5 74 V91 Q235.5 97 229.5 97 H216"/><path d="M220 92.5 L215.5 97 L220 101.5"/>
<path d="M214.5 89.5 V85.5 L224 76 L228 80 L218.5 89.5 Z"/><path d="M221 89 H226"/>
</g>
<!-- icon5 -->
<g stroke="#596273" stroke-width="1.9">
<path d="M271 89.5 L297.5 67"/><path d="M270 87 L276 95"/><path d="M278 81 L283 87.5"/>
<path d="M288 88 H301 L297 84.5"/><path d="M301 92.5 H288 L292 96"/>
</g>
<line x1="331" y1="68.5" x2="331" y2="93" stroke="#e6e8eb" stroke-width="2"/>
<!-- bookmark -->
<g stroke="#4a7fd8" stroke-width="1.9">
<path d="M364.4 83 V66.5 H382"/><path d="M370.6 97.5 V72.5 H391.5 V97.5 L381.2 91.8 Z"/>
</g>
<!-- ruler -->
<g stroke="#596273" stroke-width="1.9">
<path d="M427.4 87.6 L447.1 68.3 L454.3 75.9 L434.3 95.2 Z"/><path d="M436 80 L439.5 83.5 M440.5 75.5 L444 79 M445 71 L448.5 74.5"/>
</g>
<!-- pencil wave -->
<g stroke="#596273" stroke-width="1.9">
<path d="M488.8 93.2 V86.3 L508 67 L515 73.9 L495.7 93.2 Z"/><path d="M503.2 71.8 L510.1 78.7"/>
<path d="M506.7 91.8 Q511 87 514 88.5 Q516 91 519 89.5 Q521.5 87.5 524 86.3"/>
</g>
<!-- candles -->
<g stroke="#596273" stroke-width="1.9">
<rect x="554.8" y="72.5" width="8.4" height="20.7"/><path d="M559 68 V72.5 M559 93.2 V97.5"/>
<rect x="566.7" y="76" width="8.4" height="17.2"/><path d="M571 72 V76 M571 93.2 V97.5"/>
<rect x="578.7" y="72.5" width="8.4" height="20.7"/><path d="M583 68 V72.5 M583 93.2 V97.5"/>
<path d="M555.6 91.8 L586.7 73.9"/>
</g>
<!-- lock -->
<g stroke="#596273" stroke-width="1.9">
<rect x="624.6" y="74.5" width="20.7" height="20.7"/><path d="M629.4 74.5 V68.8 H640"/><path d="M634.9 82 V87.6"/>
</g>
<!-- note edit -->
<g stroke="#596273" stroke-width="1.9">
<path d="M711.5 77.2 V68.4 H684.6 V95.6 H695"/><path d="M690.2 76.9 H701.4 M690.2 82.8 H697.4"/>
<path d="M698.5 95 V90.8 L709.4 80 L713.4 84 L702.5 95 Z"/><path d="M706 95.2 H712"/>
</g>
<!-- magnet -->
<g stroke="#596273" stroke-width="1.9">
<path d="M761 70 L754 77 Q747 85 754 92 Q761 99 769 92 L776 85"/>
<path d="M761 70 L765 74 L758 81 Q754 85 758 88 Q761.5 91 765 87.5 L772 80.5 L776 85"/>
<path d="M758 73 L762 77 M769 84 L773 88"/>
</g>
<!-- funnel -->
<g stroke="#4a7fd8" stroke-width="1.9">
<path d="M811.1 67.6 H840.8 L829.6 80.4 V96.5 M811.1 67.6 L822.3 80.4 V91.6"/>
</g>
<!-- trash -->
<g stroke="#596273" stroke-width="1.9">
<path d="M874.4 74.3 H905.6"/><path d="M883.2 74.3 V68.4 H897.6 V74.3"/>
<path d="M879.2 74.3 V94.4 Q879.2 96.4 881.2 96.4 H899.1 Q901.1 96.4 901.1 94.4 V74.3"/>
<path d="M886.7 83.6 V89.2 M893.1 83.6 V89.2"/>
</g>
<!-- undo -->
<g stroke="#596273" stroke-width="1.9">
<path d="M945.7 72.4 L938.8 78.8 L945.7 85.2"/><path d="M938.8 78.8 H950.5 Q963.3 78.8 963.3 91.6"/>
</g>
<!-- redo -->
<g stroke="#c9cdd3" stroke-width="1.9">
<path d="M1021 72.4 L1027.9 78.8 L1021 85.2"/><path d="M1027.9 78.8 H1015.5 Q1002.5 78.8 1002.5 91.6"/>
</g>

<!-- top right -->
<g stroke="#8c919c" stroke-width="2">
<path d="M1420 11 H1427 L1429 6 H1438 L1440 11 H1446.5 V27 H1420 Z"/><circle cx="1433" cy="18" r="5"/>
</g>
<g stroke="#4a7fd8" stroke-width="1.9">
<path d="M1482 27.9 V22 L1497.3 6.5 L1503 12.5 L1487.5 27.9 Z"/><path d="M1493 10.5 L1499 16.5"/><path d="M1494.6 27.9 H1503.6"/>
</g>
<g stroke="#8c919c" stroke-width="2">
<path d="M1537 14.4 V5.8 H1559.5 V27.9 H1550.5"/><path d="M1536 24 H1545 M1540.5 19.5 V28.5"/>
</g>
<g stroke="#8c919c" stroke-width="2">
<path d="M1596.4 9.9 H1612.6 M1596.4 17.1 H1612.6 M1596.4 24 H1612.6"/>
<path d="M1616.2 9 V11 M1616.2 16 V18 M1616.2 23 V25"/>
</g>
<g stroke="#8c919c" stroke-width="2.2">
<path d="M1668.1 5 L1678.4 11 V23 L1668.1 29 L1657.8 23 V11 Z"/><circle cx="1668.1" cy="17" r="3.6"/>
</g>
<g stroke="#8c919c" stroke-width="2">
<path d="M1715 12 V6 H1721 M1715 6 L1721 12"/><path d="M1731 6 H1737.5 V12 M1737.5 6 L1731 12"/>
<path d="M1715 22 V28 H1721 M1715 28 L1721 22"/><path d="M1731 28 H1737.5 V22 M1737.5 28 L1731 22"/>
</g>
<line x1="1755" y1="0" x2="1755" y2="48" stroke="#e8eaed" stroke-width="2"/>
<g stroke="#8c919c" stroke-width="1.8">
<path d="M1778 25 Q1771.5 25 1771.5 19 Q1771.5 13.5 1777.5 13 Q1779 5 1787 5 Q1794 5 1795.5 12 Q1801.5 13 1801.5 19 Q1801.5 25 1795 25 Z"/>
<path d="M1782 17 L1785.5 20.5 L1791.5 14"/>
</g>
<path d="M1940 12.7 L1947.6 20.3 L1956 12.7" stroke="#8c919c" stroke-width="2"/>
</g>
<defs><linearGradient id="aig" x1="0" y1="0" x2="1" y2="0.3"><stop offset="0" stop-color="#4bbcc0"/><stop offset="0.5" stop-color="#4a68f2"/><stop offset="1" stop-color="#b83cf0"/></linearGradient></defs>
<path d="M1978 10 Q1978 0 1988 0 H2084 V20.5 Q2084 36.5 2068 36.5 H1978 Z" fill="url(#aig)"/>
<g fill="none" stroke="#4a7fd8" stroke-width="2">
<circle cx="2105.5" cy="17.5" r="4.5"/><circle cx="2122.5" cy="7.8" r="4.5"/><circle cx="2122.5" cy="26.2" r="4.5"/>
<path d="M2109.5 15.2 L2118.5 10.2 M2109.5 19.8 L2118.5 23.8"/>
</g>

<!-- sidebar -->
<g fill="none" stroke="#8c919c" stroke-width="3" stroke-linecap="round">
<rect x="2192" y="55.5" width="28.8" height="32.3" rx="2"/>
<path d="M2198.5 63 H2212.7 M2198.5 71.3 H2212.7 M2198.5 79.4 H2207.2"/>
<path d="M2196 200 H2221 Q2222.6 200 2222.6 198.4 V168.7 Q2222.6 167 2221 167 H2195.5 Q2193.8 167 2193.8 168.7 V197 Q2193.8 200 2191 200 Q2188.6 200 2188.6 197 V188 Q2188.6 185.7 2191 185.7 H2193.8"/>
<path d="M2193 312.8 V303 M2201.8 312.8 V300.7 M2210.5 312.8 V297.4 M2218.2 312.8 V294.2"/>
<path d="M2190.8 295.3 Q2206 291 2218 281"/><path d="M2211 280 H2219.5 V288"/>
<rect x="2188.5" y="393" width="35" height="26" rx="1.5"/>
<path d="M2196.8 423.7 H2215.2"/><path d="M2197.7 405 V411.4 M2206 400.7 V411.4 M2213.6 403.8 V411.4"/>
<path d="M2190.6 505 H2225.3 V525" stroke-linecap="butt"/>
<rect x="2186.6" y="509.6" width="32.6" height="23"/>
<rect x="2190.6" y="623.1" width="30.7" height="24.6" rx="3"/>
<path d="M2186.6 631 V641.5 M2225.3 631 V641.5 M2201.5 621 H2210.5"/>
<circle cx="2206" cy="759" r="15.3"/>
<path d="M2197 755 H2215 L2211 751 M2215 763 H2197 L2201 767" stroke-width="2.5"/>
<rect x="2188.4" y="1042.7" width="35.1" height="34.5" rx="2"/>
<path d="M2188.4 1055.2 H2223.5 M2197.4 1055.2 V1077"/>
<path d="M2193.5 1175 V1170 Q2193.5 1157 2206 1157 Q2218.5 1157 2218.5 1170 V1175" stroke-width="3.2"/>
<path d="M2201 1181 Q2202 1185.6 2206.5 1185.6" stroke-width="2.4"/>
</g>
<g fill="#8c919c">
<text x="2199.5" y="192" font-family="Liberation Sans" font-size="21" font-weight="bold" fill="#8c919c">$</text>
<text x="2190.8" y="527.5" font-family="Liberation Sans" font-size="14" letter-spacing="-0.4" fill="#8c919c" stroke="#8c919c" stroke-width="0.4">ETF</text>
<circle cx="2199.8" cy="635.4" r="2.2"/><circle cx="2213" cy="635.4" r="2.2"/>
<rect x="2190" y="1168.6" width="6.3" height="11.3" rx="1"/><rect x="2215.6" y="1168.6" width="6.3" height="11.3" rx="1"/>
<circle cx="2206.5" cy="1185.6" r="2.2"/>
</g>
<ellipse cx="2206.5" cy="617.5" rx="2" ry="3" fill="#e0503c"/>
<rect x="2148.3" y="595.5" width="12" height="76.7" rx="4" fill="#e4e6ea"/>
<path d="M2152 634 L2160 626 V642 Z" fill="#8a8f99"/>
<!-- avatar -->
<ellipse cx="2206" cy="1310" rx="12" ry="3" fill="#eef0f4"/>
<path d="M2186 1270 L2190 1262 L2196 1268 Z M2226 1270 L2222 1262 L2216 1268 Z" fill="#e9ebef"/>
<ellipse cx="2206" cy="1285" rx="21.5" ry="17.5" fill="#eceef2"/>
<ellipse cx="2207" cy="1284" rx="18" ry="11.5" fill="#6a4fe0"/>
<ellipse cx="2207" cy="1284.5" rx="16.5" ry="10" fill="#141a30"/>
<circle cx="2204.2" cy="1284.2" r="4.2" fill="#fff"/><circle cx="2219" cy="1284.2" r="4.2" fill="#fff"/>
<circle cx="2200" cy="1301" r="2.5" fill="#e3e5ea"/><circle cx="2212" cy="1301" r="2.5" fill="#e3e5ea"/>

<!-- bottom icons -->
<g fill="none" stroke="#8a8f99" stroke-width="2">
<path d="M2065.1 1339.5 L2076 1329.4 L2087 1339.5"/>
<rect x="2113" y="1323.5" width="26" height="26.7" rx="3"/>
<path d="M2118.5 1334.7 V1329.6 H2123.8 M2128.4 1344.3 H2133.4 V1339.2"/>
<path d="M1293.8 1257.9 H1285.5 V1276.4 H1303.7 V1267.3 M1293.8 1268.1 L1303.7 1258.2" stroke-width="1.8"/>
</g>
<rect x="794.3" y="1288.1" width="75.3" height="15.6" rx="3" fill="#dfe0e4"/>
<path d="M824.3 1299.6 L832 1292.2 L839.6 1299.6 Z" fill="#8a8f99"/>
<!-- price ticks -->
<g stroke="#fbfbfb" stroke-width="2">
<path d="M2014 219 H2024 M2014 319 H2024 M2014 419 H2024 M2014 519 H2024 M2014 619 H2024 M2014 719 H2024 M2014 919 H2024 M2014 1019 H2024 M2014 1119 H2024 M2012 822.8 H2024"/>
</g>
</svg>
<span class="a" style="left:1997px;top:3px;font-size:25px;line-height:30px;color:#fff;-webkit-text-stroke-width:0.6px">AI解读</span>
<span class="a" style="left:1810px;top:2px;font-size:25px;line-height:30px;color:#5a6275;-webkit-text-stroke-width:0.4px">交易筆記...</span>
<span class="a" style="left:13px;top:65px;font-size:30px;line-height:34px;color:#d4aa4a">主</span>
<span class="a" style="left:78px;top:65px;font-size:30px;line-height:34px;color:#d4aa4a">大</span>
<span class="a" style="left:142px;top:65px;font-size:30px;line-height:34px;color:#d4aa4a">筹</span>
<span class="a" style="left:391px;top:1106px;font-size:24px;line-height:28px;color:#111">59800.0</span>
<svg width="20" height="20" style="position:absolute;left:368px;top:1113px"><path d="M3 9.7 H17 M9 3.5 L3 9.7 L9 15.9" fill="none" stroke="#111" stroke-width="2"/></svg>

</body></html>
